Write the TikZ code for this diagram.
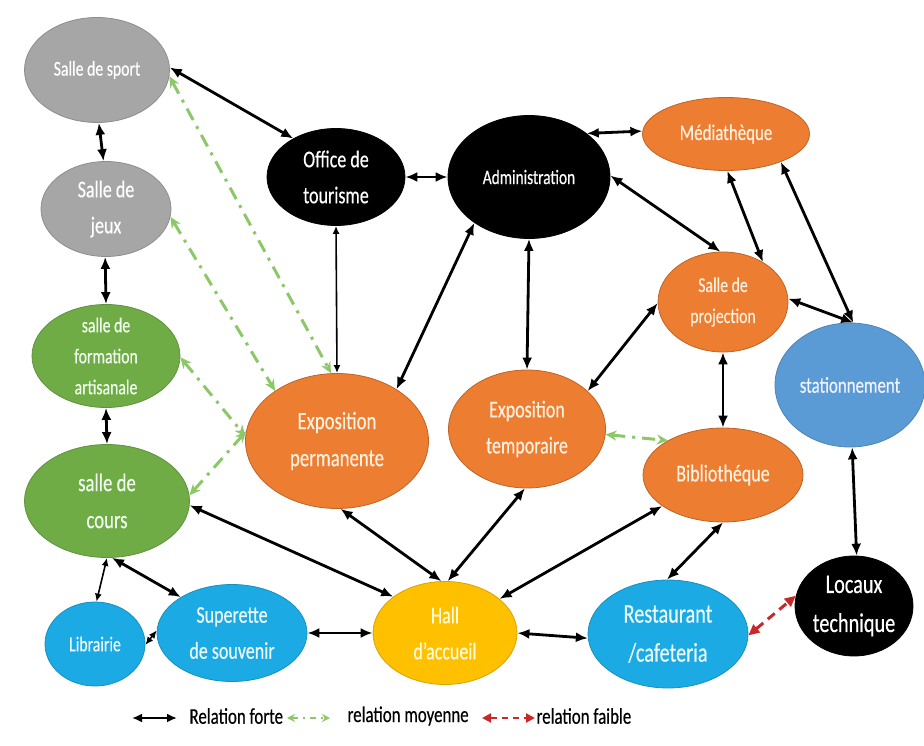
\documentclass[tikz,border=0pt]{standalone}
\usepackage{fontspec}
\setmainfont{Carlito}[FakeStretch=0.75,FakeBold=0.4]
\usetikzlibrary{shapes.geometric,arrows.meta}

\definecolor{cgris}{HTML}{A6A6A6}
\definecolor{cvert}{HTML}{6FAC46}
\definecolor{corange}{HTML}{ED7D31}
\definecolor{cbleu}{HTML}{1BAAE3}
\definecolor{cbleuf}{HTML}{5B9BD5}
\definecolor{cjaune}{HTML}{FFC000}
\definecolor{cvl}{HTML}{8CC868}
\definecolor{crouge}{HTML}{C8282A}

\begin{document}
\begin{tikzpicture}[x=1pt,y=-1pt,
    bulle/.style={ellipse, inner sep=0pt, align=center, line width=0.8pt},
    bgris/.style={bulle, fill=cgris, draw=cgris!85!black, text=white},
    bvert/.style={bulle, fill=cvert, draw=cvert!85!black, text=green!6},
    borange/.style={bulle, fill=corange, draw=corange!80!black, text=orange!12},
    bbleu/.style={bulle, fill=cbleu, draw=cbleu!85!black, text=cyan!8},
    bstat/.style={bulle, fill=cbleuf, draw=cbleuf!85!black, text=blue!5},
    bjaune/.style={bulle, fill=cjaune, draw=cjaune!85!black, text=yellow!15},
    bnoir/.style={bulle, fill=black, draw=black, text=white},
    t20/.style={font=\fontsize{20.5}{30}\selectfont},
    t21/.style={font=\fontsize{21}{31}\selectfont},
    t22/.style={font=\fontsize{22.5}{33}\selectfont},
    t24/.style={font=\fontsize{24}{36}\selectfont},
    t25/.style={font=\fontsize{25}{37}\selectfont},
    t27/.style={font=\fontsize{27}{39}\selectfont},
    forte/.style={draw=black, line width=2.8pt, >={Latex[length=12pt,width=10pt]}, <->},
    fine/.style={draw=black, line width=1.6pt, >={Latex[length=8pt,width=7pt]}, <->},
    moyenne/.style={draw=cvl, line width=3pt, dash pattern=on 13pt off 7pt on 3pt off 7pt,
        >={Stealth[length=11pt,width=10pt]}, <->},
    faible/.style={draw=crouge, line width=3pt, dash pattern=on 9pt off 6pt,
        >={Triangle[length=11pt,width=10pt]}, <->}]
    \useasboundingbox (0,0) rectangle (924,746);

    % Left column
    \node[bgris, t21, minimum width=145pt, minimum height=105pt] (sport) at (97,70) {Salle de sport};
    \node[bgris, t24, minimum width=130pt, minimum height=95pt] (jeux) at (106,209) {Salle de\\jeux};
    \node[bvert, t21, inner ysep=-8pt, minimum width=148pt, minimum height=103pt] (form) at (106,356) {salle de\\formation\\artisanale};
    \node[bvert, t25, minimum width=165pt, minimum height=113pt] (cours) at (107,501) {salle de\\cours};

    % Bottom row
    \node[bbleu, t21, minimum width=100pt, minimum height=84pt] (lib) at (95,644) {Librairie};
    \node[bbleu, t24, minimum width=150pt, minimum height=97pt] (sup) at (232,633) {Superette\\de souvenir};
    \node[bjaune, t24, minimum width=144pt, minimum height=103pt] (hall) at (445,633) {Hall\\d’accueil};
    \node[bbleu, t27, minimum width=160pt, minimum height=108pt] (resto) at (668,634) {Restaurant\\/cafeteria};
    \node[bnoir, t27, inner sep=-4pt, minimum width=118pt, minimum height=100pt] (loc) at (854,606) {Locaux\\technique};

    % Top and middle
    \node[bnoir, t24, minimum width=138pt, minimum height=97pt] (office) at (336,177) {Office de\\tourisme};
    \node[bnoir, t20, minimum width=162pt, minimum height=123pt] (admin) at (529,177) {Administration};
    \node[borange, t22, minimum width=167pt, minimum height=73pt] (media) at (726,134) {Médiathèque};
    \node[borange, t21, minimum width=130pt, minimum height=100pt] (proj) at (723,302) {Salle de\\projection};
    \node[bstat, t22, minimum width=150pt, minimum height=124pt] (stat) at (850,385) {stationnement};
    \node[borange, t25, minimum width=183pt, minimum height=135pt] (perm) at (337,441) {Exposition\\permanente};
    \node[borange, t24, minimum width=157pt, minimum height=118pt] (temp) at (527,429) {Exposition\\temporaire};
    \node[borange, t24, minimum width=160pt, minimum height=94pt] (bib) at (723,475) {Bibliothéque};

    % Strong relations
    \draw[forte] (sport.2) -- (office.138);
    \draw[forte] (sport.-88) -- (jeux.93);
    \draw[forte] (jeux.-91) -- (form.90);
    \draw[forte] (form.-90) -- (cours.90);
    \draw[fine] (cours.-90) -- (lib.88);
    \draw[forte] (cours.-85) -- (sup.145);
    \draw[fine] (lib.-1) -- (sup.178);
    \draw[forte] (sup.0) -- (hall.180);
    \draw[forte] (hall.0) -- (resto.183);
    \draw[forte] (cours.-3) -- (hall.145);
    \draw[forte] (perm.-87) -- (hall.94);
    \draw[forte] (temp.-92) -- (hall.87);
    \draw[forte] (bib.-153) -- (hall.32);
    \draw[fine] (office.-90) -- (perm.90);
    \draw[forte] (office.0) -- (admin.180);
    \draw[forte] (admin.-140) -- (perm.41);
    \draw[forte] (admin.-90) -- (temp.90);
    \draw[forte] (admin.37) -- (media.178);
    \draw[forte] (admin.1) -- (proj.93);
    \draw[forte] (media.-88) -- (proj.45);
    \draw[forte] (media.-27) -- (stat.87);
    \draw[forte] (proj.3) -- (stat.87);
    \draw[forte] (proj.-179) -- (temp.32);
    \draw[forte] (proj.-90) -- (bib.90);
    \draw[forte] (bib.-90) -- (resto.91);
    \draw[forte] (stat.-88) -- (loc.87);

    % Medium relations
    \draw[moyenne] (sport.-5) -- (perm.95);
    \draw[moyenne] (jeux.-7) -- (perm.141);
    \draw[moyenne] (form.-1) -- (perm.177);
    \draw[moyenne] (cours.4) -- (perm.174);
    \draw[moyenne] (temp.-4) -- (bib.148);

    % Weak relation
    \draw[faible] (resto.-1) -- (loc.170);

    % Legend
    \coordinate (lf1) at (132,718);
    \coordinate (lf2) at (177,718);
    \coordinate (lm1) at (287,718);
    \coordinate (lm2) at (330,718);
    \coordinate (lr1) at (482,718);
    \coordinate (lr2) at (535,718);
    \draw[forte, line width=2pt, >={Latex[length=10pt,width=9pt]}] (lf1) -- (lf2);
    \draw[moyenne, line width=2pt, dash pattern=on 6pt off 5pt on 2pt off 5pt, >={Stealth[length=8pt,width=8pt]}] (lm1) -- (lm2);
    \draw[faible, line width=2pt, dash pattern=on 6pt off 5pt, >={Triangle[length=9pt,width=9pt]}] (lr1) -- (lr2);
    \node[t22, anchor=west] (lftxt) at (186,716) {Relation forte};
    \node[t22, anchor=west] (lmtxt) at (344,716) {relation moyenne};
    \node[t22, anchor=west] (lrtxt) at (533,716) {relation faible};
\end{tikzpicture}
\end{document}
